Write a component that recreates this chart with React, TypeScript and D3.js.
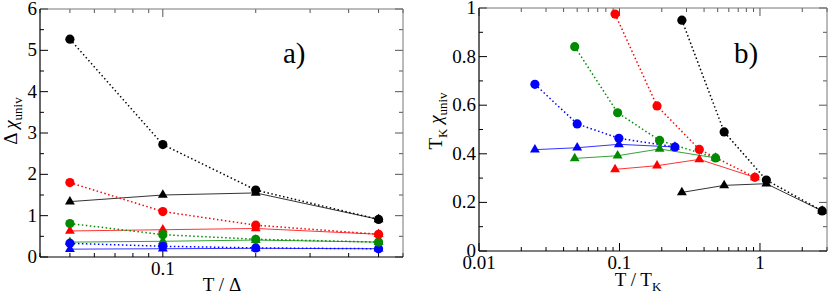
import React from 'react';
import * as d3 from 'd3';

// Panel a) data: x = T / Delta
const tOverDelta = [0.05, 0.1, 0.2, 0.5];
const aBlackCircle = [5.27, 2.72, 1.62, 0.91];
const aBlackTri = [1.34, 1.5, 1.55, 0.91];
const aRedCircle = [1.8, 1.1, 0.77, 0.55];
const aRedTri = [0.63, 0.66, 0.69, 0.55];
const aGreenCircle = [0.81, 0.54, 0.43, 0.36];
const aGreenTri = [0.36, 0.38, 0.41, 0.36];
const aBlueCircle = [0.33, 0.26, 0.22, 0.2];
const aBlueTri = [0.19, 0.2, 0.21, 0.2];

// Panel b) data: x = T / T_K per series
const bBlackX = [0.278, 0.556, 1.11, 2.77];
const bRedX = [0.093, 0.185, 0.37, 0.92];
const bGreenX = [0.048, 0.097, 0.193, 0.483];
const bBlueX = [0.025, 0.05, 0.099, 0.248];
const bBlackCircle = [0.95, 0.49, 0.292, 0.165];
const bBlackTri = [0.241, 0.27, 0.277, 0.165];
const bRedCircle = [0.975, 0.597, 0.418, 0.303];
const bRedTri = [0.336, 0.351, 0.377, 0.303];
const bGreenCircle = [0.841, 0.569, 0.455, 0.383];
const bGreenTri = [0.381, 0.392, 0.42, 0.383];
const bBlueCircle = [0.686, 0.523, 0.464, 0.428];
const bBlueTri = [0.417, 0.425, 0.439, 0.428];

const aYTicks = [0, 1, 2, 3, 4, 5, 6];
const aXTickLabels = ['0.1'];
const bYTicks = [0, 0.2, 0.4, 0.6, 0.8, 1];
const bXTickLabels = ['0.01', '0.1', '1'];

const BLACK = '#000000';
const RED = '#ff0000';
const GREEN = '#008b00';
const BLUE = '#0000ff';
const FONT = "'Liberation Serif', 'Times New Roman', Tinos, 'DejaVu Serif', serif";

type Series = { xs: number[]; ys: number[]; color: string; kind: 'circle' | 'tri' };

function logMinor(lo: number, hi: number): number[] {
  const out: number[] = [];
  for (let e = -3; e <= 2; e++) {
    for (let m = 1; m <= 9; m++) {
      const v = m * Math.pow(10, e);
      if (v >= lo * 0.9999 && v <= hi * 1.0001) out.push(+v.toPrecision(6));
    }
  }
  return out;
}

function Panel(props: {
  x0: number; x1: number; y0: number; y1: number;
  xDomain: [number, number]; yDomain: [number, number];
  yMajor: number[]; yMinorStep: number; yFmt: (v: number) => string;
  xMajor: number[]; xLabels: string[];
  series: Series[];
  tag: string; tagX: number; tagY: number;
  yLabel: React.ReactNode; yLabelX: number; yLabelY: number;
  xLabel: React.ReactNode; xLabelX: number; xLabelY: number;
  yTickLabelX: number;
}) {
  const p = props;
  const x = d3.scaleLog().domain(p.xDomain).range([p.x0, p.x1]);
  const y = d3.scaleLinear().domain(p.yDomain).range([p.y1, p.y0]);
  const xMinor = logMinor(p.xDomain[0], p.xDomain[1]).filter(v => !p.xMajor.some(m => Math.abs(m - v) < 1e-9));
  const yMinor = d3.range(p.yDomain[0], p.yDomain[1] + 1e-9, p.yMinorStep).filter(v => !p.yMajor.some(m => Math.abs(m - v) < 1e-9));
  const maj = 8, mnr = 4;
  const tri = d3.symbol().type(d3.symbolTriangle).size(42);
  const line = d3.line<[number, number]>().x(d => x(d[0])).y(d => y(d[1]));
  return (
    <g fontFamily={FONT} style={{ fontFamily: FONT }}>
      {p.yMajor.map((v, i) => (
        <g key={'ym' + i}>
          <line x1={p.x0} x2={p.x0 + maj} y1={y(v)} y2={y(v)} stroke="#000" />
          <line x1={p.x1} x2={p.x1 - maj} y1={y(v)} y2={y(v)} stroke="#555" />
          <text x={p.yTickLabelX} y={y(v) + 6} textAnchor="end" fontSize={19}>{p.yFmt(v)}</text>
        </g>
      ))}
      {yMinor.map((v, i) => (
        <g key={'yn' + i}>
          <line x1={p.x0} x2={p.x0 + mnr} y1={y(v)} y2={y(v)} stroke="#000" />
          <line x1={p.x1} x2={p.x1 - mnr} y1={y(v)} y2={y(v)} stroke="#555" />
        </g>
      ))}
      {p.xMajor.map((v, i) => (
        <g key={'xm' + i}>
          <line x1={x(v)} x2={x(v)} y1={p.y1} y2={p.y1 - maj} stroke="#000" />
          <line x1={x(v)} x2={x(v)} y1={p.y0} y2={p.y0 + maj} stroke="#555" />
          <text x={x(v)} y={p.y1 + 18} textAnchor="middle" fontSize={19}>{p.xLabels[i]}</text>
        </g>
      ))}
      {xMinor.map((v, i) => (
        <g key={'xn' + i}>
          <line x1={x(v)} x2={x(v)} y1={p.y1} y2={p.y1 - mnr} stroke="#000" />
          <line x1={x(v)} x2={x(v)} y1={p.y0} y2={p.y0 + mnr} stroke="#555" />
        </g>
      ))}
      <line x1={p.x0} x2={p.x1} y1={p.y0} y2={p.y0} stroke="#777" />
      <line x1={p.x1} x2={p.x1} y1={p.y0} y2={p.y1} stroke="#777" />
      <line x1={p.x0} x2={p.x0} y1={p.y0} y2={p.y1} stroke="#000" strokeWidth={1.2} />
      <line x1={p.x0} x2={p.x1} y1={p.y1} y2={p.y1} stroke="#000" strokeWidth={1.2} />
      {p.series.map((s, i) => (
        <path key={'l' + i}
          d={line(s.xs.map((xv, j) => [xv, s.ys[j]] as [number, number])) || ''}
          fill="none" stroke={s.color}
          strokeWidth={s.kind === 'circle' ? 1.5 : 1}
          strokeDasharray={s.kind === 'circle' ? '1.5,2.5' : undefined}
          opacity={s.kind === 'tri' ? 0.8 : 1} />
      ))}
      {p.series.map((s, i) => (
        <g key={'m' + i} fill={s.color}>
          {s.xs.map((xv, j) => s.kind === 'circle'
            ? <circle key={j} cx={x(xv)} cy={y(s.ys[j])} r={4.6} />
            : <path key={j} d={tri() || ''} transform={`translate(${x(xv)},${y(s.ys[j])})`} />)}
        </g>
      ))}
      <text x={p.tagX} y={p.tagY} fontSize={29}>{p.tag}</text>
      <text transform={`translate(${p.yLabelX},${p.yLabelY}) rotate(-90)`} textAnchor="middle" fontSize={19}>{p.yLabel}</text>
      <text x={p.xLabelX} y={p.xLabelY} textAnchor="middle" fontSize={19}>{p.xLabel}</text>
    </g>
  );
}

export default function App() {
  const aSeries: Series[] = [
    { xs: tOverDelta, ys: aBlueTri, color: BLUE, kind: 'tri' },
    { xs: tOverDelta, ys: aGreenTri, color: GREEN, kind: 'tri' },
    { xs: tOverDelta, ys: aRedTri, color: RED, kind: 'tri' },
    { xs: tOverDelta, ys: aBlackTri, color: BLACK, kind: 'tri' },
    { xs: tOverDelta, ys: aBlueCircle, color: BLUE, kind: 'circle' },
    { xs: tOverDelta, ys: aGreenCircle, color: GREEN, kind: 'circle' },
    { xs: tOverDelta, ys: aRedCircle, color: RED, kind: 'circle' },
    { xs: tOverDelta, ys: aBlackCircle, color: BLACK, kind: 'circle' },
  ];
  const bSeries: Series[] = [
    { xs: bBlueX, ys: bBlueTri, color: BLUE, kind: 'tri' },
    { xs: bGreenX, ys: bGreenTri, color: GREEN, kind: 'tri' },
    { xs: bRedX, ys: bRedTri, color: RED, kind: 'tri' },
    { xs: bBlackX, ys: bBlackTri, color: BLACK, kind: 'tri' },
    { xs: bBlueX, ys: bBlueCircle, color: BLUE, kind: 'circle' },
    { xs: bGreenX, ys: bGreenCircle, color: GREEN, kind: 'circle' },
    { xs: bRedX, ys: bRedCircle, color: RED, kind: 'circle' },
    { xs: bBlackX, ys: bBlackCircle, color: BLACK, kind: 'circle' },
  ];
  return (
    <svg width={830} height={294} style={{ position: 'absolute', left: 0, top: 0, background: '#fff' }}>
      <rect width={830} height={294} fill="#fff" />
      <Panel
        x0={40} x1={403} y0={9} y1={257}
        xDomain={[0.04, 0.6]} yDomain={[0, 6]}
        yMajor={aYTicks} yMinorStep={0.5} yFmt={v => String(v)}
        xMajor={[0.1]} xLabels={aXTickLabels}
        series={aSeries}
        tag="a)" tagX={283} tagY={63}
        yLabel={<>{'Δ '}<tspan fontStyle="italic">χ</tspan><tspan fontSize={13} dy={5}>univ</tspan></>}
        yLabelX={17} yLabelY={121}
        xLabel={'T / Δ'} xLabelX={222} xLabelY={291}
        yTickLabelX={37}
      />
      <Panel
        x0={479} x1={827} y0={8} y1={251}
        xDomain={[0.01, 3]} yDomain={[0, 1]}
        yMajor={bYTicks} yMinorStep={0.1} yFmt={v => (v === 0 ? '0' : v === 1 ? '1' : v.toFixed(1))}
        xMajor={[0.01, 0.1, 1]} xLabels={bXTickLabels}
        series={bSeries}
        tag="b)" tagX={734} tagY={63}
        yLabel={<>{'T'}<tspan fontSize={13} dy={5}>K</tspan><tspan dy={-5}>{' '}</tspan><tspan fontStyle="italic">χ</tspan><tspan fontSize={13} dy={5}>univ</tspan></>}
        yLabelX={442} yLabelY={121}
        xLabel={<>{'T / T'}<tspan fontSize={13} dy={5}>K</tspan></>} xLabelX={638} xLabelY={286}
        yTickLabelX={476}
      />
    </svg>
  );
}
